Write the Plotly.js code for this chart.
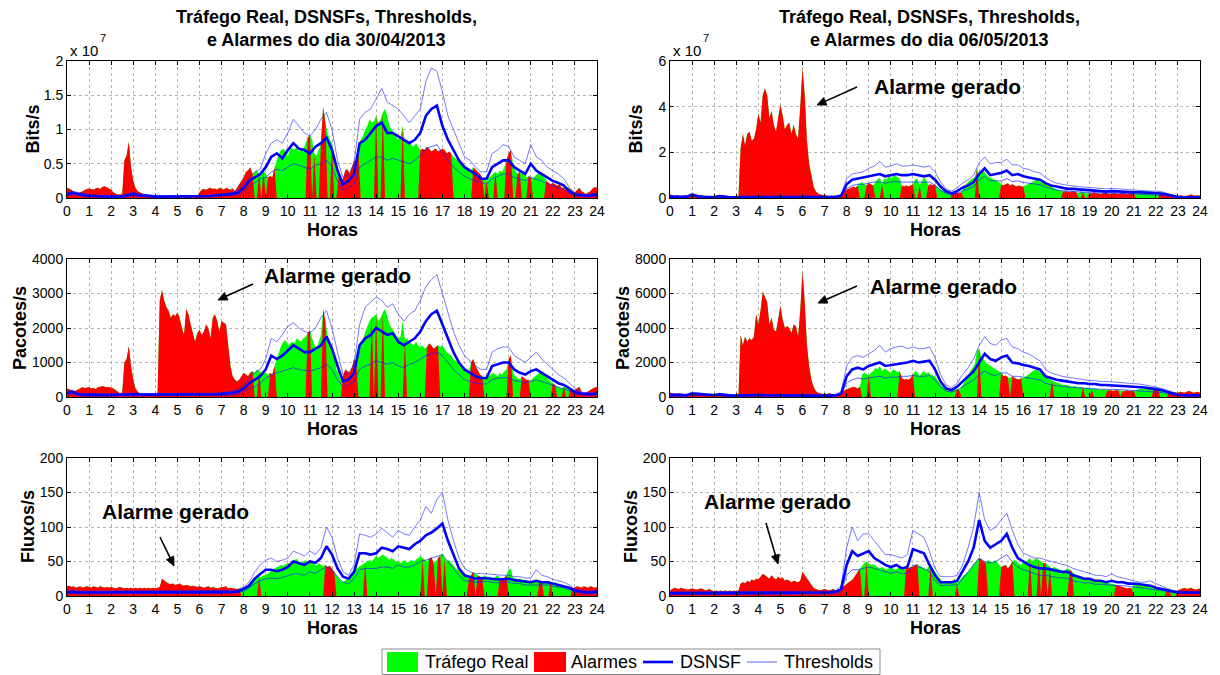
<!DOCTYPE html>
<html><head><meta charset="utf-8">
<script src="https://cdn.plot.ly/plotly-3.0.1.min.js"></script>
<style>html,body{margin:0;padding:0;background:#fff}#chart{width:1220px;height:675px}</style>
</head><body><div id="chart"></div>
<script>
// ---------- time grids ----------
const hoursFine = Array.from({length:241},(_,i)=>i/10);   // traffic sampled every 0.1 h
const hoursCoarse = Array.from({length:97},(_,i)=>i/4);   // DSNSF / thresholds every 0.25 h
const hourTicks = Array.from({length:25},(_,i)=>i);

// ---------- Panel A: 30/04/2013 Bits/s (x 1e7) ----------
const trafA = [
0.15,0.14,0.12,0.08,0.06,0.05,0.08,0.10,0.12,0.13,
0.14,0.13,0.12,0.14,0.15,0.13,0.16,0.17,0.15,0.14,
0.12,0.08,0.06,0.05,0.05,0.06,0.55,0.62,0.82,0.45,
0.25,0.15,0.10,0.08,0.06,0.05,0.05,0.04,0.04,0.03,
0.03,0.03,0.03,0.04,0.03,0.03,0.03,0.02,0.03,0.02,
0.02,0.03,0.02,0.02,0.02,0.03,0.02,0.02,0.03,0.03,
0.08,0.12,0.13,0.12,0.14,0.15,0.13,0.14,0.12,0.15,
0.14,0.12,0.15,0.13,0.12,0.14,0.10,0.15,0.20,0.25,
0.30,0.38,0.40,0.45,0.35,0.38,0.40,0.35,0.38,0.40,
0.35,0.30,0.32,0.30,0.45,0.55,0.65,0.70,0.72,0.68,
0.60,0.75,0.72,0.70,0.75,0.68,0.72,0.70,0.80,0.88,
0.92,0.85,0.65,0.62,0.70,0.80,1.33,1.10,0.95,0.85,
0.80,0.65,0.45,0.32,0.25,0.28,0.40,0.42,0.35,0.45,
0.55,0.50,0.65,0.85,0.90,1.00,1.05,1.15,1.10,1.12,
1.20,1.10,1.15,1.25,1.30,1.20,1.05,1.00,0.95,0.90,
0.85,0.90,1.05,0.82,0.85,0.80,0.78,0.75,0.80,0.75,
0.70,0.72,0.70,0.75,0.72,0.68,0.70,0.72,0.68,0.70,
0.72,0.70,0.65,0.68,0.65,0.60,0.58,0.55,0.52,0.50,
0.48,0.45,0.42,0.40,0.45,0.42,0.38,0.35,0.30,0.28,
0.25,0.30,0.32,0.35,0.38,0.35,0.40,0.38,0.45,0.55,
0.65,0.70,0.50,0.40,0.35,0.38,0.35,0.40,0.30,0.32,
0.30,0.28,0.32,0.35,0.38,0.35,0.30,0.25,0.22,0.20,
0.22,0.20,0.18,0.20,0.15,0.15,0.12,0.15,0.12,0.10,
0.08,0.12,0.15,0.10,0.08,0.06,0.08,0.10,0.14,0.16,
0.15];
const alarmA = [[0,8.4],[8.7,8.7],[8.9,8.9],[9.1,9.4],[10.9,11.0],[11.2,11.2],[11.5,11.7],[12.0,12.0],[12.3,13.2],[14.0,14.0],[14.3,14.3],[15.2,15.2],[16.0,17.4],[18.4,18.8],[19.0,19.0],[19.4,19.4],[19.9,20.1],[20.4,20.5],[20.9,21.0],[21.7,24]];
const dsnsfA = [
0.05,0.08,0.06,0.04, 0.03,0.03,0.02,0.02, 0.02,0.02,0.02,0.04, 0.06,0.04,0.03,0.03,
0.02,0.02,0.02,0.02, 0.02,0.02,0.02,0.02, 0.02,0.03,0.03,0.04, 0.04,0.05,0.06,0.08,
0.15,0.25,0.30,0.35, 0.45,0.60,0.65,0.58, 0.70,0.80,0.72,0.70, 0.65,0.75,0.80,0.88,
0.70,0.40,0.20,0.25, 0.35,0.80,0.85,0.95, 1.05,1.10,0.95,0.95, 0.90,0.85,0.80,0.85,
0.95,1.20,1.30,1.35, 1.05,0.85,0.70,0.55, 0.45,0.40,0.35,0.28, 0.28,0.45,0.50,0.55,
0.55,0.45,0.40,0.35, 0.50,0.40,0.35,0.30, 0.25,0.22,0.18,0.10, 0.05,0.04,0.03,0.04,
0.05];
const upA = [
0.07,0.10,0.08,0.06, 0.05,0.04,0.03,0.03, 0.03,0.03,0.03,0.06, 0.08,0.06,0.05,0.04,
0.03,0.03,0.03,0.03, 0.03,0.03,0.03,0.03, 0.03,0.04,0.04,0.05, 0.06,0.07,0.08,0.12,
0.22,0.30,0.38,0.42, 0.65,0.80,0.85,0.80, 0.95,1.15,1.05,0.95, 0.90,1.00,1.15,1.25,
1.00,0.55,0.30,0.35, 0.50,1.15,1.25,1.30, 1.45,1.60,1.40,1.35, 1.30,1.20,1.10,1.20,
1.30,1.70,1.90,1.85, 1.55,1.20,1.00,0.80, 0.60,0.55,0.45,0.38, 0.38,0.65,0.70,0.78,
0.75,0.60,0.55,0.50, 0.78,0.60,0.55,0.45, 0.40,0.35,0.28,0.15, 0.08,0.06,0.05,0.06,
0.07];
const lowA = [
0.03,0.05,0.04,0.02, 0.02,0.02,0.01,0.01, 0.01,0.01,0.01,0.02, 0.03,0.02,0.02,0.02,
0.01,0.01,0.01,0.01, 0.01,0.01,0.01,0.01, 0.01,0.02,0.02,0.03, 0.03,0.03,0.04,0.05,
0.10,0.18,0.22,0.28, 0.30,0.38,0.42,0.40, 0.45,0.50,0.48,0.45, 0.42,0.48,0.50,0.55,
0.45,0.25,0.12,0.15, 0.20,0.45,0.50,0.55, 0.60,0.60,0.55,0.58, 0.55,0.52,0.50,0.55,
0.62,0.72,0.75,0.78, 0.65,0.55,0.45,0.38, 0.32,0.28,0.25,0.22, 0.20,0.28,0.32,0.35,
0.35,0.30,0.28,0.25, 0.30,0.28,0.25,0.20, 0.18,0.15,0.12,0.07, 0.03,0.03,0.02,0.03,
0.03];

// ---------- Panel B: 30/04/2013 Pacotes/s ----------
const trafB = [
250,230,200,150,180,220,250,280,260,270,
280,250,260,230,280,300,320,300,280,290,
280,250,200,150,100,120,1000,1100,1480,900,
500,250,150,100,80,80,70,60,60,60,
60,60,2800,3100,2800,2600,2500,2300,2400,2350,
2450,2300,2000,1800,2550,2400,2100,1800,1600,1850,
1950,1800,1900,2100,2000,1700,2300,2400,2200,1900,
2200,2150,2100,1500,900,600,500,450,500,600,
700,650,600,700,750,700,800,750,700,750,
700,650,700,650,900,1100,1300,1500,1600,1650,
1500,1550,1600,1550,1700,1650,1600,1700,1750,1850,
1950,1700,1500,1350,1600,1800,2550,2200,1800,1600,
1500,1200,800,700,500,600,800,750,700,850,
1100,1000,1200,1500,1700,1900,2050,2200,2300,2350,
2400,2200,2300,2450,2550,2350,2100,2000,1900,1800,
1700,1750,2200,1650,1700,1600,1550,1500,1600,1500,
1450,1500,1400,1450,1550,1500,1400,1450,1500,1450,
1500,1400,1300,1250,1200,1100,1050,1000,950,900,
850,800,750,1000,1100,900,750,650,600,550,
550,600,650,700,650,600,700,650,750,800,
1100,1200,700,600,550,500,600,550,500,500,
450,550,600,650,700,750,700,600,500,450,
400,350,300,280,250,300,350,300,250,200,
200,250,300,150,100,120,150,200,250,280,
300];
const alarmB = [[0,8.4],[8.7,8.7],[9.2,9.4],[10.9,11.0],[11.6,11.7],[12.5,13.1],[13.8,13.8],[14.0,14.0],[14.3,14.3],[15.3,15.3],[16.3,16.8],[18.3,18.8],[20.0,20.1],[20.6,20.9],[22.0,22.1],[22.5,22.5],[22.8,24]];
const dsnsfB = [
100,150,80,60, 70,60,60,60, 60,70,80,90, 80,70,70,60,
60,60,60,60, 60,60,60,60, 70,70,80,80, 90,100,120,150,
250,400,500,600, 800,1200,1100,1200, 1350,1500,1400,1300, 1300,1400,1500,1750,
1400,900,450,500, 700,1500,1700,1800, 2000,1900,1800,1850, 1600,1500,1600,1700,
1900,2200,2400,2500, 2100,1700,1300,1000, 800,700,600,550, 550,900,950,1000,
1000,800,700,650, 750,800,700,600, 500,400,350,250, 150,100,80,80,
100];
const upB = [
150,200,120,90, 100,90,90,90, 90,100,110,120, 110,100,100,90,
90,90,90,90, 90,90,90,90, 100,100,110,110, 120,140,170,220,
350,550,700,800, 1100,1700,1600,1800, 2050,2150,2000,1900, 1850,2000,2300,2500,
2000,1300,650,700, 950,2100,2600,2750, 2900,2800,2600,2700, 2400,2200,2400,2500,
2800,3200,3400,3550, 3000,2500,1900,1500, 1200,1050,900,800, 800,1300,1400,1450,
1450,1200,1100,1000, 1150,1300,1100,950, 800,650,550,400, 250,150,120,120,
150];
const lowB = [
50,80,40,30, 35,30,30,30, 30,35,40,45, 40,35,35,30,
30,30,30,30, 30,30,30,30, 35,35,40,40, 45,50,60,80,
150,250,300,400, 550,650,700,750, 800,850,800,780, 750,800,850,950,
800,500,300,350, 450,800,900,950, 1050,1000,950,1000, 900,850,950,1000,
1100,1200,1250,1300, 1200,1000,800,650, 500,450,400,380, 380,500,550,560,
560,480,450,420, 450,500,450,400, 330,280,230,170, 100,60,50,50,
60];

// ---------- Panel C: 30/04/2013 Fluxos/s ----------
const trafC = [
14,15,13,14,12,13,14,12,13,14,
13,12,14,13,12,14,13,12,13,12,
13,12,11,12,13,12,11,12,11,12,
11,12,11,12,11,12,11,12,11,12,
11,12,13,25,22,20,18,17,18,16,
17,18,16,15,16,15,14,15,14,13,
14,13,12,13,14,12,13,12,11,12,
12,13,14,11,12,12,11,10,11,11,
12,14,15,18,22,24,26,27,28,30,
30,32,35,38,40,42,44,45,44,46,
48,47,50,52,54,50,48,50,52,48,
50,48,46,44,48,45,43,45,42,44,
40,35,30,25,22,20,22,25,30,35,
38,40,42,44,45,48,50,52,50,55,
58,55,57,60,58,55,52,55,52,50,
50,48,50,52,48,50,52,50,52,55,
58,55,52,50,54,56,48,50,55,58,
62,55,50,52,48,45,40,38,35,33,
30,28,25,30,35,32,30,28,26,30,
28,27,26,25,28,30,26,24,26,30,
38,40,25,26,24,25,24,23,22,22,
21,22,23,24,22,21,22,20,22,20,
19,20,18,17,16,15,14,13,12,11,
12,14,13,12,14,13,12,14,13,12,
13];
const alarmC = [[0,7.8],[8.7,8.7],[11.7,12.1],[13.5,13.5],[16.1,16.1],[16.4,16.6],[16.8,16.9],[17.1,17.1],[18.2,18.4],[18.6,18.8],[19.6,19.9],[21.4,21.5],[21.9,21.9],[22.9,24]];
const dsnsfC = [
5,6,5,5, 5,5,5,5, 5,5,5,5, 5,5,5,6,
5,5,5,5, 5,5,5,5, 5,5,5,5, 5,5,6,7,
10,15,25,32, 38,38,36,38, 42,50,48,45, 50,48,55,72,
60,40,28,25, 35,62,62,60, 62,70,68,65, 72,70,68,75,
80,88,92,98, 105,80,60,40, 30,28,25,26, 26,25,24,25,
25,23,22,20, 20,22,20,20, 18,17,15,12, 8,6,5,5,
6];
const upC = [
7,8,7,7, 7,7,7,7, 7,7,7,7, 7,7,7,8,
7,7,7,7, 7,7,7,7, 7,7,7,7, 7,7,8,9,
13,20,35,45, 52,55,50,52, 55,65,62,58, 65,60,70,100,
85,55,35,30, 45,90,88,85, 90,98,92,85, 95,90,88,100,
110,130,120,140, 150,110,80,55, 40,35,32,33, 32,31,30,30,
30,28,28,26, 26,38,30,28, 24,22,20,16, 10,8,7,7,
8];
const lowC = [
3,4,3,3, 3,3,3,3, 3,3,3,3, 3,3,3,4,
3,3,3,3, 3,3,3,3, 3,3,3,3, 3,3,4,5,
7,12,18,22, 25,26,25,27, 30,32,32,30, 35,33,38,42,
38,28,20,18, 25,38,40,40, 40,42,42,40, 45,42,42,45,
50,52,55,58, 60,50,40,30, 22,22,20,21, 21,20,19,20,
20,18,18,16, 16,17,16,16, 14,13,12,9, 6,4,3,3,
4];

// ---------- Panel D: 06/05/2013 Bits/s (x 1e7) ----------
const trafD = [
0.15,0.12,0.10,0.12,0.10,0.08,0.10,0.12,0.10,0.12,
0.15,0.12,0.10,0.12,0.10,0.08,0.10,0.08,0.06,0.08,
0.05,0.06,0.08,0.10,0.08,0.06,0.05,0.06,0.05,0.06,
0.05,0.06,2.20,2.80,2.30,2.80,2.90,2.50,2.60,3.00,
3.70,3.30,4.50,4.80,4.50,3.50,3.80,3.20,2.90,3.50,
4.10,3.60,3.00,3.20,3.30,2.80,3.20,2.80,2.60,4.00,
5.70,4.50,2.50,1.50,0.90,0.50,0.30,0.20,0.15,0.12,
0.12,0.10,0.08,0.10,0.08,0.06,0.08,0.10,0.20,0.30,
0.35,0.40,0.45,0.50,0.45,0.55,0.65,0.70,0.60,0.55,
0.65,0.60,0.55,0.70,0.80,0.90,0.60,0.85,0.80,0.95,
0.85,0.95,1.00,0.90,0.85,0.55,0.50,0.55,0.50,0.55,
0.60,0.80,0.85,0.55,0.75,0.90,0.80,0.55,0.60,0.55,
0.60,0.50,0.40,0.35,0.30,0.25,0.20,0.18,0.20,0.22,
0.25,0.20,0.25,0.50,0.60,0.70,0.80,0.85,0.90,1.30,
1.00,1.10,1.20,1.05,0.95,0.90,0.85,0.80,0.75,0.70,
0.60,0.55,0.60,0.65,0.55,0.60,0.55,0.50,0.55,0.50,
0.50,0.55,0.60,0.65,0.70,0.75,0.80,0.75,0.70,0.65,
0.60,0.55,0.50,0.45,0.40,0.38,0.35,0.30,0.28,0.30,
0.28,0.25,0.30,0.28,0.25,0.22,0.30,0.25,0.22,0.20,
0.22,0.20,0.25,0.22,0.20,0.18,0.20,0.22,0.20,0.18,
0.20,0.22,0.20,0.18,0.20,0.22,0.20,0.18,0.20,0.22,
0.20,0.25,0.28,0.30,0.32,0.30,0.28,0.30,0.28,0.25,
0.22,0.20,0.18,0.15,0.12,0.10,0.12,0.15,0.10,0.12,
0.10,0.12,0.10,0.08,0.10,0.12,0.15,0.12,0.10,0.12,
0.10];
const alarmD = [[0,8.5],[8.9,9.2],[9.6,9.6],[10.5,11.0],[11.3,11.3],[11.7,12.0],[12.8,13.2],[13.9,13.9],[15.0,16.0],[17.8,18.4],[18.7,18.7],[19.0,21.0],[22.2,24]];
const dsnsfD = [
0.05,0.05,0.04,0.05, 0.15,0.08,0.05,0.04, 0.04,0.08,0.04,0.03, 0.03,0.05,0.04,0.04,
0.05,0.04,0.04,0.04, 0.04,0.04,0.04,0.04, 0.04,0.04,0.04,0.04, 0.04,0.04,0.05,0.10,
0.60,0.80,0.85,0.90, 0.95,1.00,1.05,0.95, 1.00,1.05,1.00,1.00, 1.05,1.00,0.95,1.00,
0.80,0.50,0.30,0.20, 0.30,0.45,0.55,0.70, 1.05,1.30,1.00,1.05, 1.10,1.20,1.00,1.05,
0.95,0.90,0.85,0.80, 0.65,0.55,0.50,0.45, 0.40,0.40,0.38,0.35, 0.32,0.30,0.30,0.28,
0.30,0.28,0.27,0.26, 0.25,0.25,0.24,0.22, 0.22,0.20,0.15,0.08, 0.04,0.03,0.03,0.03,
0.03];
const upD = [
0.08,0.08,0.06,0.08, 0.20,0.12,0.08,0.06, 0.06,0.12,0.06,0.05, 0.05,0.07,0.06,0.06,
0.07,0.06,0.06,0.06, 0.06,0.06,0.06,0.06, 0.06,0.06,0.06,0.06, 0.06,0.06,0.08,0.15,
0.85,1.05,1.10,1.15, 1.30,1.40,1.60,1.35, 1.40,1.50,1.40,1.40, 1.45,1.40,1.35,1.40,
1.15,0.70,0.40,0.30, 0.45,0.65,0.80,1.00, 1.55,1.80,1.50,1.55, 1.55,1.70,1.45,1.45,
1.30,1.25,1.15,1.10, 0.90,0.75,0.65,0.60, 0.55,0.52,0.50,0.48, 0.45,0.42,0.42,0.40,
0.42,0.40,0.38,0.36, 0.35,0.34,0.33,0.30, 0.30,0.28,0.20,0.12, 0.06,0.05,0.05,0.05,
0.05];
const lowD = [
0.02,0.02,0.02,0.02, 0.10,0.04,0.02,0.02, 0.02,0.04,0.02,0.01, 0.01,0.03,0.02,0.02,
0.03,0.02,0.02,0.02, 0.02,0.02,0.02,0.02, 0.02,0.02,0.02,0.02, 0.02,0.02,0.03,0.06,
0.40,0.55,0.60,0.60, 0.65,0.70,0.70,0.65, 0.70,0.72,0.70,0.70, 0.72,0.70,0.68,0.70,
0.55,0.35,0.20,0.12, 0.20,0.30,0.38,0.50, 0.80,0.95,0.75,0.75, 0.75,0.85,0.72,0.75,
0.68,0.65,0.60,0.58, 0.48,0.40,0.35,0.32, 0.30,0.28,0.27,0.25, 0.23,0.22,0.22,0.20,
0.22,0.20,0.19,0.18, 0.18,0.17,0.17,0.15, 0.15,0.14,0.10,0.05, 0.02,0.02,0.02,0.02,
0.02];

// ---------- Panel E: 06/05/2013 Pacotes/s ----------
const trafE = [
250,220,200,180,220,200,180,150,180,200,
230,200,180,200,180,150,170,150,130,150,
130,120,150,180,150,120,100,120,100,110,
100,120,3600,3000,3500,3200,3400,3300,3500,4800,
4200,5000,6100,5800,5500,4200,4600,3900,3800,4500,
5300,4500,4000,4100,4000,3700,4200,4100,3500,5000,
7300,5500,3000,1800,1000,600,350,250,200,180,
200,180,220,200,180,150,180,200,300,400,
450,500,550,600,550,500,600,1300,1400,1300,
1250,1400,1500,1700,1600,1800,1500,1650,1600,1500,
1400,1600,1550,1450,1500,1100,1000,1050,1000,1100,
1300,1500,1450,1200,1400,1500,1350,1450,1300,1250,
1200,1000,800,650,550,450,400,420,450,500,
450,400,600,800,1000,1200,1500,1700,1900,2700,
2800,2300,2200,2000,1900,1800,1700,1600,1550,1500,
1400,1200,1250,1150,1100,1200,1100,1050,1000,1100,
1100,1200,1300,1400,1500,1550,1600,1500,1400,1300,
1200,1100,1000,950,900,850,800,750,700,700,
700,650,600,650,600,550,600,550,500,550,
500,450,500,480,450,420,450,400,380,400,
380,350,400,380,350,330,350,380,350,330,
350,400,450,480,500,480,450,500,450,420,
400,450,420,380,300,280,250,300,280,250,
250,300,280,250,300,350,300,250,280,300,
250];
const alarmE = [[0,8.6],[9.0,9.0],[10.4,11.0],[13.0,13.1],[14.0,14.0],[15.0,15.3],[15.5,15.9],[17.3,17.3],[18.7,18.7],[19.1,19.1],[19.8,20.3],[20.5,21.0],[21.9,22.1],[22.6,24]];
const dsnsfE = [
120,130,110,100, 200,170,150,130, 100,150,100,80, 80,100,90,100,
120,100,90,100, 90,80,90,80, 90,80,80,80, 80,80,90,200,
1200,1600,1700,1600, 1800,1900,2000,1800, 1850,1900,1950,2000, 2100,2000,2050,2100,
1600,900,500,400, 600,900,1200,1500, 2000,2500,2200,2100, 2300,2400,2000,1950,
1850,1800,1700,1600, 1200,1100,1000,950, 900,850,800,800, 750,750,700,700,
680,650,650,620, 600,580,550,500, 450,400,300,200, 120,100,100,100,
100];
const upE = [
180,200,170,150, 280,250,220,200, 150,220,150,120, 120,150,130,150,
180,150,130,150, 130,120,130,120, 130,120,120,120, 120,120,130,300,
1800,2300,2400,2300, 2500,2700,3000,2600, 2800,2900,2950,2800, 2900,2800,2800,2900,
2300,1300,700,550, 800,1300,1700,2200, 3000,3500,3100,3000, 3300,3400,2900,2800,
2600,2500,2300,2100, 1600,1400,1300,1200, 1150,1100,1050,1000, 950,950,900,900,
880,850,850,800, 780,750,700,650, 580,500,400,280, 180,150,140,140,
140];
const lowE = [
70,80,60,50, 130,100,90,80, 60,90,60,50, 50,60,55,60,
70,60,55,60, 55,50,55,50, 55,50,50,50, 50,50,55,120,
800,1000,1100,1050, 1100,1150,1200,1100, 1150,1150,1200,1200, 1250,1200,1200,1250,
1000,600,350,280, 400,600,800,1000, 1300,1500,1300,1250, 1400,1400,1200,1200,
1150,1100,1050,1000, 800,700,650,600, 580,550,520,500, 480,470,450,450,
440,420,420,400, 380,370,350,320, 300,260,200,130, 80,60,60,60,
60];

// ---------- Panel F: 06/05/2013 Fluxos/s ----------
const trafF = [
8,10,12,11,10,12,11,10,9,10,
11,10,9,10,11,10,8,9,10,8,
7,8,7,8,7,8,7,8,7,8,
7,8,18,20,18,22,20,24,22,25,
24,28,32,30,28,25,30,26,24,28,
25,27,22,24,22,20,22,21,20,22,
35,30,25,20,15,12,10,9,8,9,
10,9,8,9,10,8,9,10,12,15,
18,20,22,25,30,35,40,45,48,50,
48,45,46,44,42,40,42,40,38,40,
42,40,38,40,42,38,40,45,40,42,
42,45,46,44,42,40,38,42,44,40,
35,30,25,22,20,18,20,22,20,25,
18,22,25,30,32,35,40,45,48,52,
55,52,50,48,52,50,48,52,50,45,
42,44,45,40,44,50,52,50,48,45,
50,48,52,55,50,52,55,52,50,48,
48,45,42,40,42,40,38,36,35,38,
40,38,35,32,30,28,27,26,25,24,
24,23,22,22,21,20,20,19,20,18,
18,17,16,15,14,12,12,11,12,11,
16,18,20,19,18,17,16,15,14,13,
12,11,10,12,11,9,8,7,6,7,
8,10,11,12,10,11,12,10,9,10,
11];
const alarmF = [[0,8.6],[8.9,8.9],[10.7,11.2],[11.8,11.8],[13.0,13.0],[14.0,14.3],[15.0,15.5],[16.3,16.3],[16.7,16.7],[16.9,17.0],[17.2,17.2],[18.1,18.2],[20.2,20.9],[22.5,22.6],[23.0,24]];
const dsnsfF = [
4,4,4,4, 4,4,4,4, 4,4,4,4, 4,4,4,4,
4,4,4,4, 4,4,4,4, 4,5,5,5, 5,5,6,10,
45,65,58,62, 65,55,50,45, 42,45,40,42, 68,65,62,45,
30,20,20,20, 22,35,50,70, 110,80,70,75, 80,90,70,55,
50,45,42,40, 40,38,36,35, 35,30,28,25, 25,22,22,20,
22,20,20,18, 18,17,16,15, 12,10,9,6, 5,5,5,5,
5];
const upF = [
6,6,6,6, 6,6,6,6, 6,6,6,6, 6,6,6,6,
6,6,6,6, 6,6,6,6, 6,7,7,7, 7,7,8,15,
70,100,80,90, 90,80,70,60, 60,58,55,60, 95,90,85,65,
40,28,28,28, 30,45,70,100, 150,110,95,100, 110,120,95,75,
62,58,55,55, 52,50,48,46, 44,40,37,35, 33,30,30,28,
32,28,26,24, 22,20,20,22, 18,15,12,8, 7,6,6,6,
6];
const lowF = [
2,2,2,2, 2,2,2,2, 2,2,2,2, 2,2,2,2,
2,2,2,2, 2,2,2,2, 2,3,3,3, 3,3,4,6,
30,38,38,40, 42,40,38,35, 33,35,32,33, 45,42,40,35,
22,15,15,15, 16,25,35,45, 55,50,48,50, 55,60,50,42,
38,35,32,30, 30,28,27,26, 26,22,20,19, 19,17,17,16,
16,15,15,14, 14,13,12,11, 9,8,7,5, 4,4,4,4,
4];

// ---------- axis tick labels / texts ----------
const yTicksA = [0,0.5,1,1.5,2], yTextA = ['0','0.5','1','1.5','2'];
const yTicksB = [0,1000,2000,3000,4000], yTextB = ['0','1000','2000','3000','4000'];
const yTicksC = [0,50,100,150,200], yTextC = ['0','50','100','150','200'];
const yTicksD = [0,2,4,6], yTextD = ['0','2','4','6'];
const yTicksE = [0,2000,4000,6000,8000], yTextE = ['0','2000','4000','6000','8000'];
const yTicksF = [0,50,100,150,200], yTextF = ['0','50','100','150','200'];
const dayTitles = ['e Alarmes do dia 30/04/2013','e Alarmes do dia 06/05/2013'];
const titleLine1 = 'Tráfego Real, DSNSFs, Thresholds,';
const yTitles = ['Bits/s','Pacotes/s','Fluxos/s'];
const legendNames = ['Tráfego Real','Alarmes','DSNSF','Thresholds'];

// ---------- layout helpers ----------
const W = 1220, H = 675;
const px = x => x / W, py = y => 1 - y / H;
const colPx = [[67,597],[670,1200]];
const rowPx = [[61,198],[259,397],[458,596]];
const yTitleOffset = [34, 47, 39];
const FONT = 'Liberation Sans, Arial, Helvetica, sans-serif';

const panels = [
 {traf:trafA, alarm:alarmA, d:dsnsfA, up:upA, low:lowA, col:0,row:0, range:[0,2],    tv:yTicksA, tt:yTextA},
 {traf:trafD, alarm:alarmD, d:dsnsfD, up:upD, low:lowD, col:1,row:0, range:[0,6],    tv:yTicksD, tt:yTextD},
 {traf:trafB, alarm:alarmB, d:dsnsfB, up:upB, low:lowB, col:0,row:1, range:[0,4000], tv:yTicksB, tt:yTextB},
 {traf:trafE, alarm:alarmE, d:dsnsfE, up:upE, low:lowE, col:1,row:1, range:[0,8000], tv:yTicksE, tt:yTextE},
 {traf:trafC, alarm:alarmC, d:dsnsfC, up:upC, low:lowC, col:0,row:2, range:[0,200],  tv:yTicksC, tt:yTextC},
 {traf:trafF, alarm:alarmF, d:dsnsfF, up:upF, low:lowF, col:1,row:2, range:[0,200],  tv:yTicksF, tt:yTextF}
];

panels.forEach((p,k)=>{
  if (p.traf.length !== 241) throw new Error('traffic length panel '+k+': '+p.traf.length);
  ['d','up','low'].forEach(n=>{ if (p[n].length !== 97) throw new Error(n+' length panel '+k+': '+p[n].length); });
});

function alarmOnly(traf, intervals){
  return traf.map((v,i)=> intervals.some(([a,b])=> i>=Math.round(a*10) && i<=Math.round(b*10)) ? v : 0);
}

const traces = [];
const layout = {
  width:W, height:H, margin:{l:0,r:0,t:0,b:0}, autosize:false,
  paper_bgcolor:'#fff', plot_bgcolor:'#fff', showlegend:false,
  font:{family:FONT, color:'#000'},
  annotations:[], shapes:[]
};

panels.forEach((p,k)=>{
  const sfx = k===0 ? '' : String(k+1);
  const xa = 'x'+sfx, ya = 'y'+sfx;
  const common = {xaxis:xa, yaxis:ya, type:'scatter', mode:'lines', hoverinfo:'skip', showlegend:false};
  traces.push(Object.assign({}, common, {x:hoursFine, y:p.traf, fill:'tozeroy', fillcolor:'#00ff00', line:{width:0,color:'#00ff00'}, name:legendNames[0]}));
  traces.push(Object.assign({}, common, {x:hoursFine, y:alarmOnly(p.traf,p.alarm), fill:'tozeroy', fillcolor:'#ff0000', line:{width:0,color:'#ff0000'}, name:legendNames[1]}));
  traces.push(Object.assign({}, common, {x:hoursCoarse, y:p.low, line:{width:1,color:'rgba(30,30,255,0.7)'}, name:legendNames[3]}));
  traces.push(Object.assign({}, common, {x:hoursCoarse, y:p.up, line:{width:1,color:'rgba(30,30,255,0.6)'}, name:legendNames[3]}));
  traces.push(Object.assign({}, common, {x:hoursCoarse, y:p.d, line:{width:2.6,color:'#0000ff'}, name:legendNames[2]}));

  const axBase = {showline:true, linecolor:'#000', linewidth:1, mirror:'ticks', ticks:'inside', ticklen:4, tickcolor:'#000',
    showgrid:true, gridcolor:'#b4b4b4', griddash:'dot', gridwidth:1, zeroline:false, fixedrange:true,
    tickfont:{size:14, family:FONT, color:'#000'}};
  const c = colPx[p.col], r = rowPx[p.row];
  layout['xaxis'+sfx] = Object.assign({}, axBase, {domain:[px(c[0]),px(c[1])], anchor:ya, range:[0,24], tickmode:'array', tickvals:hourTicks, ticktext:hourTicks.map(String)});
  layout['yaxis'+sfx] = Object.assign({}, axBase, {domain:[py(r[1]),py(r[0])], anchor:xa, range:p.range, tickmode:'array', tickvals:p.tv, ticktext:p.tt});

  // axis titles
  layout.annotations.push({xref:'paper',yref:'paper', x:px((c[0]+c[1])/2), y:py(r[1]+32), text:'Horas', showarrow:false,
    xanchor:'center', yanchor:'middle', font:{size:18, family:FONT, color:'#000', weight:'bold'}});
  layout.annotations.push({xref:'paper',yref:'paper', x:px(c[0]-yTitleOffset[p.row]), y:py((r[0]+r[1])/2), text:yTitles[p.row], showarrow:false, textangle:-90,
    xanchor:'center', yanchor:'middle', font:{size:18, family:FONT, color:'#000', weight:'bold'}});
});

// column titles and exponent labels
[0,1].forEach(ci=>{
  const c = colPx[ci];
  const cx = (c[0]+c[1])/2 - 6;
  layout.annotations.push({xref:'paper',yref:'paper', x:px(cx), y:py(17), text:titleLine1, showarrow:false, xanchor:'center', yanchor:'middle', font:{size:18, family:FONT, color:'#000', weight:'bold'}});
  layout.annotations.push({xref:'paper',yref:'paper', x:px(cx), y:py(40), text:dayTitles[ci], showarrow:false, xanchor:'center', yanchor:'middle', font:{size:18, family:FONT, color:'#000', weight:'bold'}});
  layout.annotations.push({xref:'paper',yref:'paper', x:px(c[0]+1), y:py(50), text:'x 10', showarrow:false, xanchor:'left', yanchor:'middle', font:{size:15, family:FONT, color:'#000'}});
  layout.annotations.push({xref:'paper',yref:'paper', x:px(c[0]+31), y:py(38), text:'7', showarrow:false, xanchor:'left', yanchor:'middle', font:{size:11, family:FONT, color:'#000'}});
});

// "Alarme gerado" labels with arrows (arrow = line + filled head, drawn as shapes)
const alarmLabels = [
  {tx:337, ty:275, hx:218, hy:300, tlx:253, tly:284},
  {tx:175, ty:511, hx:174, hy:566, tlx:160, tly:537},
  {tx:947, ty:87,  hx:817, hy:105, tlx:857, tly:87},
  {tx:943, ty:287, hx:818, hy:303, tlx:857, tly:286},
  {tx:777, ty:501, hx:778, hy:564, tlx:766, tly:523}
];
alarmLabels.forEach(a=>{
  layout.annotations.push({xref:'paper',yref:'paper', x:px(a.tx), y:py(a.ty), text:'Alarme gerado', showarrow:false, xanchor:'center', yanchor:'middle', font:{size:21, family:FONT, color:'#000', weight:'bold'}});
  const dx = a.hx - a.tlx, dy = a.hy - a.tly, len = Math.hypot(dx,dy);
  const ux = dx/len, uy = dy/len, nx = -uy, ny = ux;
  const L = 9, w = 4;
  const bx = a.hx - L*ux, by = a.hy - L*uy;
  layout.shapes.push({type:'line', xref:'paper', yref:'paper', x0:px(a.tlx), y0:py(a.tly), x1:px(bx+2*ux), y1:py(by+2*uy), line:{color:'#000', width:1.6}});
  const p1 = [bx + w*nx, by + w*ny], p2 = [bx - w*nx, by - w*ny];
  layout.shapes.push({type:'path', xref:'paper', yref:'paper',
    path:`M${px(a.hx)},${py(a.hy)} L${px(p1[0])},${py(p1[1])} L${px(p2[0])},${py(p2[1])} Z`,
    fillcolor:'#000', line:{color:'#000', width:1}});
});

// legend (drawn as a boxed row at the bottom)
layout.shapes.push({type:'rect', xref:'paper', yref:'paper', x0:px(382), x1:px(880), y0:py(674.5), y1:py(649), line:{color:'#8c8c8c', width:1}, fillcolor:'#fff'});
layout.shapes.push({type:'rect', xref:'paper', yref:'paper', x0:px(387), x1:px(418), y0:py(672), y1:py(652), line:{width:0}, fillcolor:'#00ff00'});
layout.shapes.push({type:'rect', xref:'paper', yref:'paper', x0:px(534), x1:px(566), y0:py(672), y1:py(652), line:{width:0}, fillcolor:'#ff0000'});
layout.shapes.push({type:'line', xref:'paper', yref:'paper', x0:px(643), x1:px(673), y0:py(662), y1:py(662), line:{color:'#0000ff', width:2.6}});
layout.shapes.push({type:'line', xref:'paper', yref:'paper', x0:px(747), x1:px(777), y0:py(662), y1:py(662), line:{color:'rgba(30,30,255,0.7)', width:1}});
[[423,0],[569,1],[678,2],[782,3]].forEach(([x,i])=>{
  layout.annotations.push({xref:'paper',yref:'paper', x:px(x), y:py(662), text:legendNames[i], showarrow:false, xanchor:'left', yanchor:'middle', font:{size:18, family:FONT, color:'#000'}});
});

Plotly.newPlot('chart', traces, layout, {staticPlot:true, displayModeBar:false});
</script>
</body></html>
